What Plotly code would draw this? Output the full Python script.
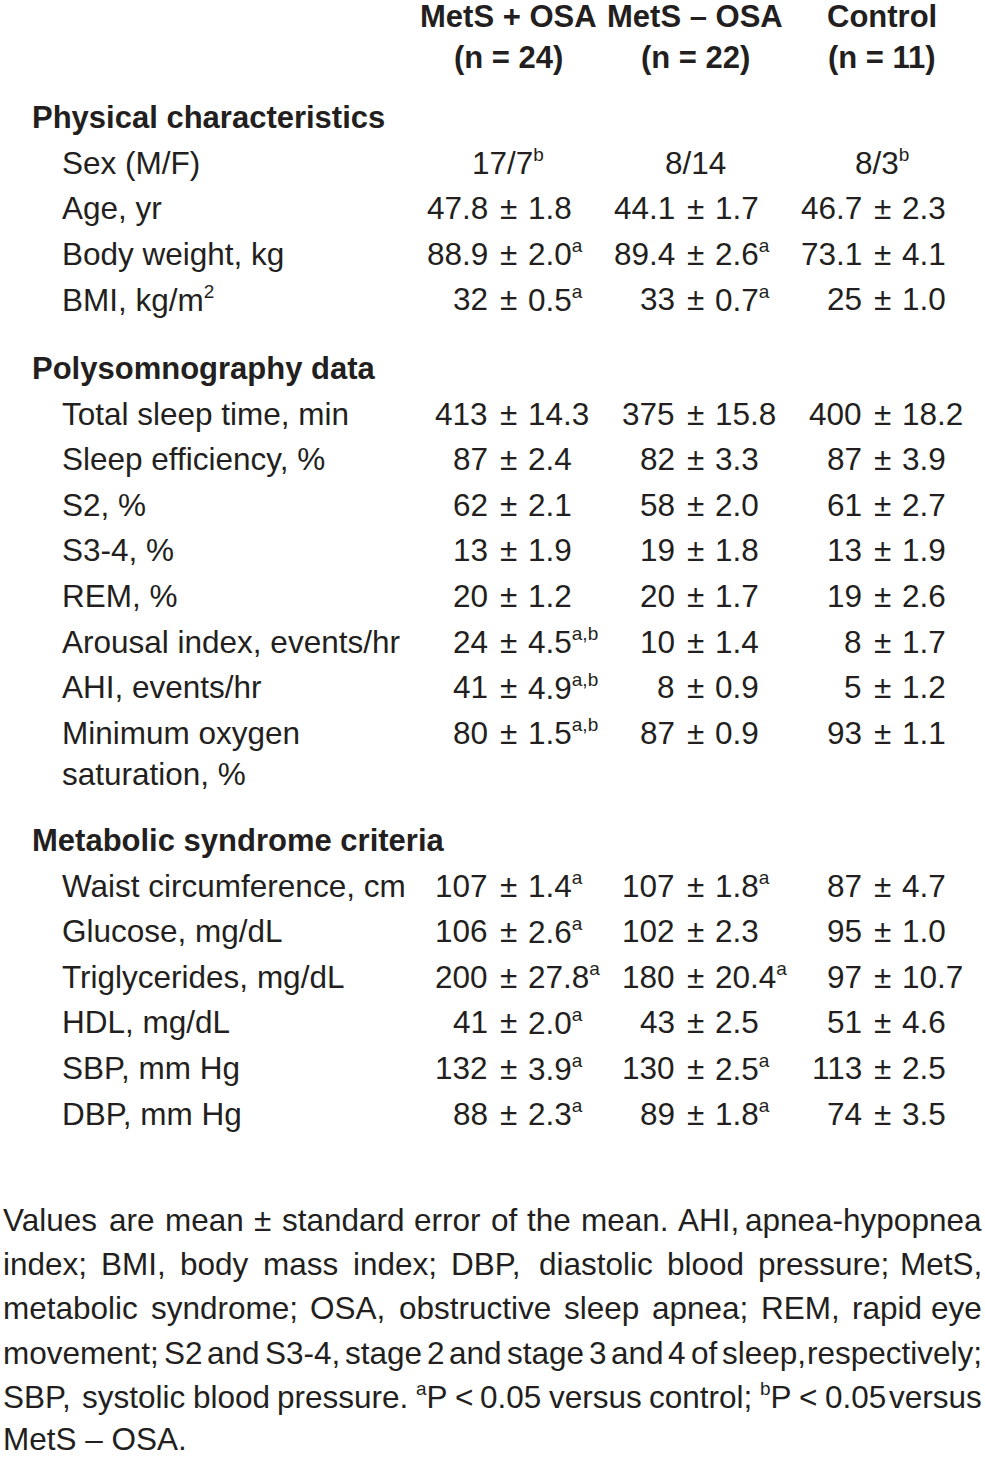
import re
import plotly.graph_objects as go

# ---------------- data ----------------
groups = ["MetS + OSA", "MetS – OSA", "Control"]
group_n = [24, 22, 11]
sections = ["Physical characteristics", "Polysomnography data", "Metabolic syndrome criteria"]

sex_label = "Sex (M/F)"
sex_m = [17, 8, 8]
sex_f = [7, 14, 3]
sex_sup = ["b", "", "b"]

row_labels = ["Age, yr", "Body weight, kg", "BMI, kg/m<sup>2</sup>",
              "Total sleep time, min", "Sleep efficiency, %", "S2, %", "S3-4, %", "REM, %",
              "Arousal index, events/hr", "AHI, events/hr", "Minimum oxygen\nsaturation, %",
              "Waist circumference, cm", "Glucose, mg/dL", "Triglycerides, mg/dL",
              "HDL, mg/dL", "SBP, mm Hg", "DBP, mm Hg"]
row_section = [0, 0, 0, 1, 1, 1, 1, 1, 1, 1, 1, 2, 2, 2, 2, 2, 2]
mean_decimals = [1, 1, 0, 0, 0, 0, 0, 0, 0, 0, 0, 0, 0, 0, 0, 0, 0]

mets_osa_mean = [47.8, 88.9, 32, 413, 87, 62, 13, 20, 24, 41, 80, 107, 106, 200, 41, 132, 88]
mets_osa_se = [1.8, 2.0, 0.5, 14.3, 2.4, 2.1, 1.9, 1.2, 4.5, 4.9, 1.5, 1.4, 2.6, 27.8, 2.0, 3.9, 2.3]
mets_osa_sup = ["", "a", "a", "", "", "", "", "", "a,b", "a,b", "a,b", "a", "a", "a", "a", "a", "a"]

mets_no_osa_mean = [44.1, 89.4, 33, 375, 82, 58, 19, 20, 10, 8, 87, 107, 102, 180, 43, 130, 89]
mets_no_osa_se = [1.7, 2.6, 0.7, 15.8, 3.3, 2.0, 1.8, 1.7, 1.4, 0.9, 0.9, 1.8, 2.3, 20.4, 2.5, 2.5, 1.8]
mets_no_osa_sup = ["", "a", "a", "", "", "", "", "", "", "", "", "a", "", "a", "", "a", "a"]

control_mean = [46.7, 73.1, 25, 400, 87, 61, 13, 19, 8, 5, 93, 87, 95, 97, 51, 113, 74]
control_se = [2.3, 4.1, 1.0, 18.2, 3.9, 2.7, 1.9, 2.6, 1.7, 1.2, 1.1, 4.7, 1.0, 10.7, 4.6, 2.5, 3.5]
control_sup = [""] * 17

footnote_lines = [
    "Values are mean ± standard error of the mean. AHI, apnea-hypopnea",
    "index; BMI, body mass index; DBP, diastolic blood pressure; MetS,",
    "metabolic syndrome; OSA, obstructive sleep apnea; REM, rapid eye",
    "movement; S2 and S3-4, stage 2 and stage 3 and 4 of sleep, respectively;",
    "SBP, systolic blood pressure. <sup>a</sup>P &lt; 0.05 versus control; <sup>b</sup>P &lt; 0.05 versus",
    "MetS – OSA.",
]

# ---------------- layout / style ----------------
W, H = 985, 1457
FONT = "Liberation Sans, Arial, sans-serif"
SIZE = 31.5
BOLD_SIZE = 31
SUP_SIZE = 19
COLOR = "#231f20"

col_x = [508, 695, 882]
label_x = 60
section_x = 30
y_shift = -1
header_y = [17, 58]
section_y = [118, 369, 841]
row_step = 45.6
second_line_gap = 41
foot_y0 = 1221
foot_step = 44.2
foot_left, foot_right = 1, 984

AW = {' ': 278, '!': 278, '(': 333, ')': 333, '+': 584, ',': 278, '-': 333, '.': 278, '/': 278,
      ':': 278, ';': 278, '<': 584, '=': 584, '>': 584, '%': 889, '±': 584, '–': 556,
      'A': 667, 'B': 667, 'C': 722, 'D': 722, 'E': 667, 'F': 611, 'G': 778, 'H': 722, 'I': 278,
      'J': 500, 'K': 667, 'L': 556, 'M': 833, 'N': 722, 'O': 778, 'P': 667, 'Q': 778, 'R': 722,
      'S': 667, 'T': 611, 'U': 722, 'V': 667, 'W': 944, 'X': 667, 'Y': 667, 'Z': 611,
      'a': 556, 'b': 556, 'c': 500, 'd': 556, 'e': 556, 'f': 278, 'g': 556, 'h': 556, 'i': 222,
      'j': 222, 'k': 500, 'l': 222, 'm': 833, 'n': 556, 'o': 556, 'p': 556, 'q': 556, 'r': 333,
      's': 500, 't': 278, 'u': 556, 'v': 500, 'w': 722, 'x': 500, 'y': 500, 'z': 500}


def sup(s):
    return f'<sup><span style="font-size:{SUP_SIZE}px">{s}</span></sup>' if s else ""


def text_width(s, size=SIZE):
    total = 0.0
    for p in re.split(r'(<sup>.*?</sup>)', s):
        if p.startswith('<sup>'):
            inner = re.sub(r'<[^>]+>', '', p)
            total += SUP_SIZE / size * sum(AW.get(c, 556) for c in inner)
        else:
            p = p.replace('&lt;', '<')
            total += sum(AW.get(c, 556) for c in p)
    return total / 1000 * size


annotations = []


def add(text, x, y, anchor="left", bold=False):
    text = re.sub(r'<sup>(.*?)</sup>', lambda m: sup(m.group(1)), text)
    annotations.append(dict(
        text=f"<b>{text}</b>" if bold else text, x=x, y=y + y_shift, xref="x", yref="y",
        xanchor=anchor, yanchor="middle", showarrow=False,
        font=dict(family=FONT, size=BOLD_SIZE if bold else SIZE, color=COLOR)))


# headers
for g, n, cx in zip(groups, group_n, col_x):
    add(g, cx, header_y[0], "center", bold=True)
    add(f"(n = {n})", cx, header_y[1], "center", bold=True)

for s, sy in zip(sections, section_y):
    add(s, section_x, sy, "left", bold=True)

# sex row
sex_y = section_y[0] + row_step
add(sex_label, label_x, sex_y)
for m, f, sp, cx in zip(sex_m, sex_f, sex_sup, col_x):
    add(f"{m}/{f}" + (f"<sup>{sp}</sup>" if sp else ""), cx, sex_y, "center")

# numeric rows
pm_off = (AW['±'] / 2 + AW[' ']) / 1000 * SIZE
cols = [(mets_osa_mean, mets_osa_se, mets_osa_sup),
        (mets_no_osa_mean, mets_no_osa_se, mets_no_osa_sup),
        (control_mean, control_se, control_sup)]
count_in_section = {0: 1, 1: 0, 2: 0}
for i, lab in enumerate(row_labels):
    sec = row_section[i]
    count_in_section[sec] += 1
    y = section_y[sec] + row_step * count_in_section[sec]
    lines = lab.split("\n")
    add(lines[0], label_x, y)
    for k, extra in enumerate(lines[1:]):
        add(extra, label_x, y + second_line_gap * (k + 1))
    for (means, ses, sups), cx in zip(cols, col_x):
        add(f"{means[i]:.{mean_decimals[i]}f}", cx - pm_off, y, "right")
        add("±", cx, y, "center")
        se_txt = f"{ses[i]:.1f}" + (f"<sup>{sups[i]}</sup>" if sups[i] else "")
        add(se_txt, cx + pm_off, y, "left")

# footnote (justified)
for li, line in enumerate(footnote_lines):
    y = foot_y0 + foot_step * li
    words = line.split(" ")
    if li == len(footnote_lines) - 1:
        add(line, foot_left, y - 2, "left")
        continue
    widths = [text_width(w) for w in words]
    gap = (foot_right - foot_left - sum(widths)) / (len(words) - 1)
    x = float(foot_left)
    for j, (w, wd) in enumerate(zip(words, widths)):
        if j == len(words) - 1:
            add(w, foot_right, y, "right")
        else:
            add(w, x, y, "left")
        x += wd + gap

fig = go.Figure(go.Scatter(x=[], y=[], showlegend=False))
fig.update_layout(
    width=W, height=H, margin=dict(l=0, r=0, t=0, b=0),
    paper_bgcolor="white", plot_bgcolor="white",
    xaxis=dict(range=[0, W], visible=False, fixedrange=True),
    yaxis=dict(range=[H, 0], visible=False, fixedrange=True),
    annotations=annotations,
)
fig.write_html("out.html", config={"displayModeBar": False},
               post_script="document.body.style.margin='0';")
